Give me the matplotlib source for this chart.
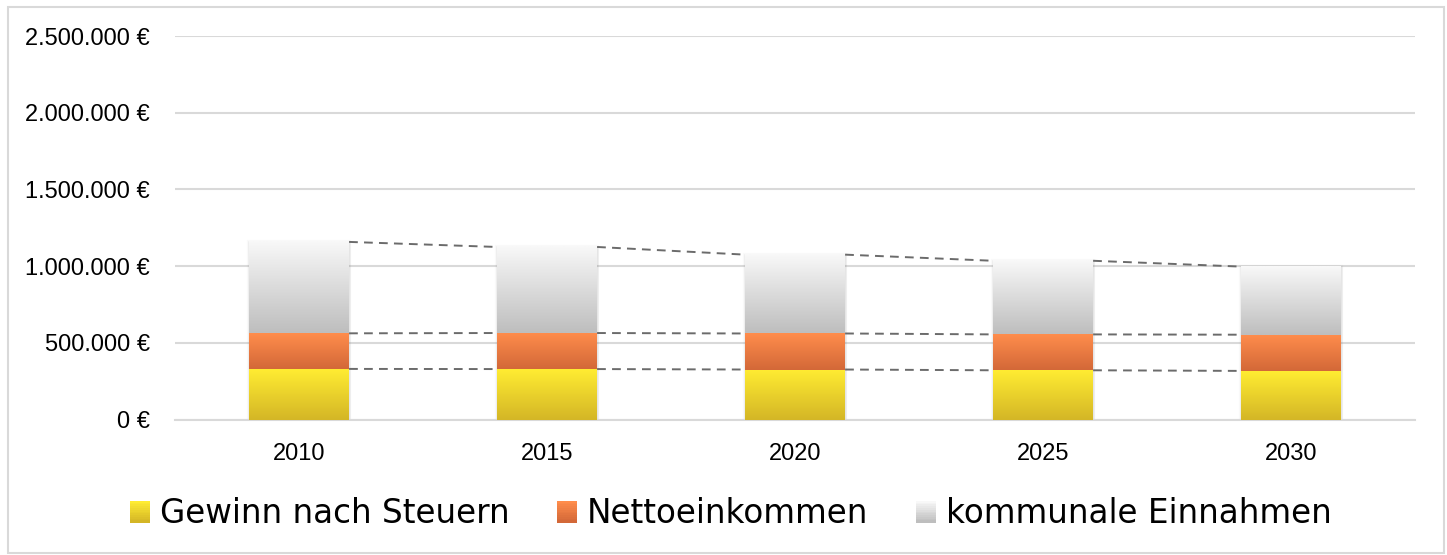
import numpy as np
import matplotlib
matplotlib.use("Agg")
import matplotlib.pyplot as plt
from matplotlib.patches import Rectangle
from matplotlib.legend_handler import HandlerBase
from matplotlib.ticker import FuncFormatter

# Daten (in Euro)
years = ["2010", "2015", "2020", "2025", "2030"]
gewinn = [330000, 329000, 326000, 321000, 317000]
netto = [232000, 235000, 235000, 234000, 236000]
kommunal = [596000, 561000, 514000, 480000, 444000]
series_names = ["Gewinn nach Steuern", "Nettoeinkommen", "kommunale Einnahmen"]

# Verlauf: oben hell, unten dunkel
grad_colors = [
    ((255, 236, 50), (212, 182, 38)),
    ((255, 141, 76), (211, 104, 56)),
    ((248, 248, 248), (190, 190, 190)),
]


def make_gradient(top, bottom, n=64):
    t = np.linspace(0, 1, n)[:, None]
    top = np.array(top) / 255.0
    bottom = np.array(bottom) / 255.0
    return (top * (1 - t) + bottom * t)[:, None, :]


class GradientHandler(HandlerBase):
    def __init__(self, top, bottom):
        super().__init__()
        self.top = top
        self.bottom = bottom

    def create_artists(self, legend, orig_handle, xdescent, ydescent,
                       width, height, fontsize, trans):
        arts = []
        n = 12
        top = np.array(self.top) / 255.0
        bottom = np.array(self.bottom) / 255.0
        for k in range(n):
            t = k / (n - 1)
            c = top * (1 - t) + bottom * t
            y = -ydescent + height * (1 - (k + 1) / n)
            r = Rectangle((-xdescent, y), width, height / n + 0.3,
                          facecolor=c, edgecolor="none", transform=trans)
            arts.append(r)
        return arts


plt.rcParams["font.family"] = ["Liberation Sans", "DejaVu Sans"]

fig = plt.figure(figsize=(14.47, 5.55), dpi=100)
ax = fig.add_axes([0.121, 0.2441, 0.857, 0.6909])

x = np.arange(len(years))
w = 0.403
bottoms = np.zeros(len(years))
tops = []
for vals, (top, bottom) in zip([gewinn, netto, kommunal], grad_colors):
    bars = ax.bar(x, vals, w, bottom=bottoms, facecolor="none",
                  edgecolor="none", zorder=3)
    grad = make_gradient(top, bottom)
    for b in bars:
        x0, y0 = b.get_x(), b.get_y()
        ax.imshow(grad, extent=[x0, x0 + b.get_width(), y0, y0 + b.get_height()],
                  aspect="auto", zorder=3, interpolation="bilinear")
    bottoms = bottoms + np.array(vals)
    tops.append(bottoms.copy())

# leichter Schatten um die Säulen
for i in range(len(years)):
    for k, a in zip([3.0, 2.0, 1.0], [0.04, 0.06, 0.08]):
        ax.add_patch(Rectangle((x[i] - w / 2, 0), w, tops[-1][i],
                               facecolor="none", edgecolor=(0.4, 0.4, 0.4, a),
                               linewidth=k, zorder=2.5))

# Reihenlinien zwischen den Säulen
for cum in tops:
    for i in range(len(years) - 1):
        ax.plot([x[i] + w / 2, x[i + 1] - w / 2], [cum[i], cum[i + 1]],
                color="#6b6b6b", linestyle=(0, (4.5, 3.2)), linewidth=1.4,
                zorder=4)

ax.set_xlim(-0.5, len(years) - 0.5)
ax.set_ylim(0, 2500000)
ax.set_yticks(np.arange(0, 2500001, 500000))
ax.yaxis.set_major_formatter(FuncFormatter(
    lambda v, p: "{:,.0f} €".format(v).replace(",", ".")))
ax.set_xticks(x)
ax.set_xticklabels(years)
ax.tick_params(axis="y", length=0, pad=18, labelsize=17, colors="#000000")
ax.tick_params(axis="x", length=0, pad=17, labelsize=17, colors="#000000")
ax.grid(axis="y", color="#d9d9d9", linewidth=1.5, zorder=0)
ax.set_axisbelow(True)
for s in ["top", "right", "left"]:
    ax.spines[s].set_visible(False)
ax.spines["bottom"].set_color("#d9d9d9")
ax.spines["bottom"].set_linewidth(1.5)

handles = [Rectangle((0, 0), 1, 1) for _ in series_names]
hmap = {h: GradientHandler(*c) for h, c in zip(handles, grad_colors)}
leg = fig.legend(handles, series_names, handler_map=hmap, loc="center",
                 bbox_to_anchor=(0.505, 0.074), ncol=3, frameon=False,
                 prop={"family": "DejaVu Sans", "size": 23.5},
                 handlelength=0.62, handleheight=0.62, handletextpad=0.3,
                 columnspacing=1.45)

fig.patches.append(Rectangle((0.0055, 0.004), 0.9925, 0.984,
                             transform=fig.transFigure, facecolor="none",
                             edgecolor="#d9d9d9", linewidth=1.5))

fig.savefig("out.png", dpi=100)
